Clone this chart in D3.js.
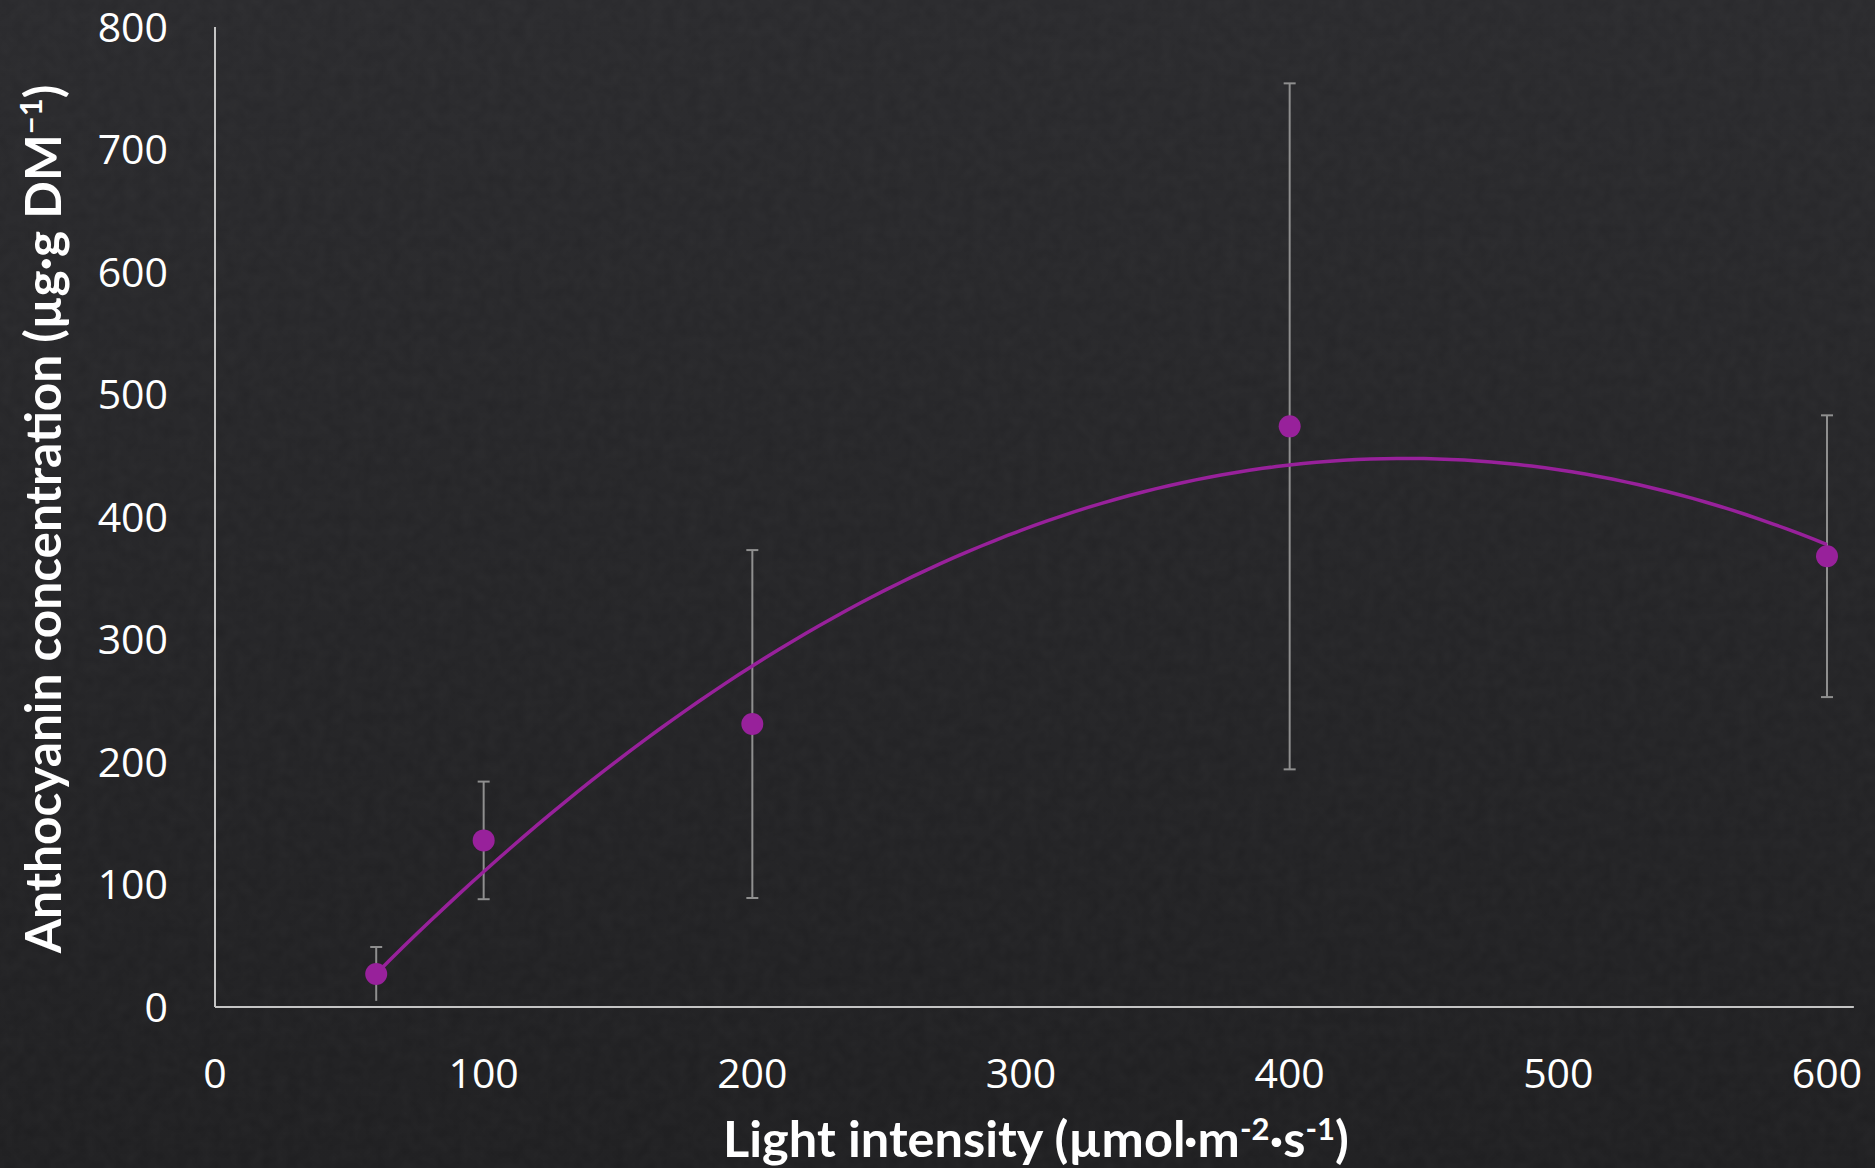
<!DOCTYPE html>
<html>
<head>
<meta charset="utf-8">
<script src="https://cdn.jsdelivr.net/npm/d3@7"></script>
<style>
  html, body { margin: 0; padding: 0; background: #232326; }
  svg { display: block; }
</style>
</head>
<body>
<div id="chart"></div>
<script>
const lightLevels = [60, 100, 200, 400, 600]
const anthocyanin = [27, 136, 231, 474, 368]
const errors = [22, 48, 142, 280, 115]
const xTicks = [0, 100, 200, 300, 400, 500, 600]
const yTicks = [0, 100, 200, 300, 400, 500, 600, 700, 800]

const width = 1875
const height = 1168

const data = lightLevels.map((x, i) => ({ x: x, y: anthocyanin[i], e: errors[i] }))

const svg = d3.select("#chart")
  .append("svg")
  .attr("width", width)
  .attr("height", height)

// background: dark slate with a bit of grain
const defs = svg.append("defs")
const grad = defs.append("linearGradient")
  .attr("id", "bg")
  .attr("x1", 0).attr("y1", 0).attr("x2", 0).attr("y2", 1)
grad.append("stop").attr("offset", "0%").attr("stop-color", "#29292c")
grad.append("stop").attr("offset", "100%").attr("stop-color", "#1e1e20")

const grain = defs.append("filter").attr("id", "grain")
grain.append("feTurbulence")
  .attr("type", "fractalNoise")
  .attr("baseFrequency", 0.08)
  .attr("numOctaves", 2)
  .attr("seed", 4)
grain.append("feColorMatrix")
  .attr("type", "matrix")
  .attr("values", "0 0 0 0 0.5  0 0 0 0 0.5  0 0 0 0 0.5  0 0 0 0.05 0")

svg.append("rect").attr("width", width).attr("height", height).attr("fill", "url(#bg)")
svg.append("rect").attr("width", width).attr("height", height).attr("filter", "url(#grain)")

const x = d3.scaleLinear().domain([0, 600]).range([215, 1827])
const y = d3.scaleLinear().domain([0, 800]).range([1007, 27])

const axisColor = "#c4c4c4"
const errColor = "#8f8f8f"
const purple = "#98219b"

// axes lines
svg.append("line")
  .attr("x1", x(0)).attr("x2", x(0))
  .attr("y1", y(0)).attr("y2", y(800))
  .attr("stroke", axisColor).attr("stroke-width", 2)
svg.append("line")
  .attr("x1", x(0)).attr("x2", x(610))
  .attr("y1", y(0)).attr("y2", y(0))
  .attr("stroke", axisColor).attr("stroke-width", 2)

// tick labels
svg.append("g")
  .selectAll("text")
  .data(yTicks)
  .join("text")
  .attr("x", 168)
  .attr("y", (d) => y(d))
  .attr("dy", "0.36em")
  .attr("text-anchor", "end")
  .attr("font-family", "Open Sans")
  .attr("font-size", 41)
  .attr("fill", "#ffffff")
  .text((d) => d)

svg.append("g")
  .selectAll("text")
  .data(xTicks)
  .join("text")
  .attr("x", (d) => x(d))
  .attr("y", 1088)
  .attr("text-anchor", "middle")
  .attr("font-family", "Open Sans")
  .attr("font-size", 41)
  .attr("fill", "#ffffff")
  .text((d) => d)

// error bars
const bars = svg.append("g")
  .attr("stroke", errColor)
  .attr("stroke-width", 2)
bars.selectAll("line.stem")
  .data(data)
  .join("line")
  .attr("class", "stem")
  .attr("x1", (d) => x(d.x)).attr("x2", (d) => x(d.x))
  .attr("y1", (d) => y(Math.max(0, d.y - d.e)))
  .attr("y2", (d) => y(d.y + d.e))
bars.selectAll("line.capTop")
  .data(data)
  .join("line")
  .attr("class", "capTop")
  .attr("x1", (d) => x(d.x) - 6).attr("x2", (d) => x(d.x) + 6)
  .attr("y1", (d) => y(d.y + d.e)).attr("y2", (d) => y(d.y + d.e))
bars.selectAll("line.capBot")
  .data(data.filter((d) => d.y - d.e > 10))
  .join("line")
  .attr("class", "capBot")
  .attr("x1", (d) => x(d.x) - 6).attr("x2", (d) => x(d.x) + 6)
  .attr("y1", (d) => y(d.y - d.e)).attr("y2", (d) => y(d.y - d.e))

// second order polynomial trendline (least squares on the points)
function quadFit(xs, ys) {
  const s = [0, 0, 0, 0, 0]
  const t = [0, 0, 0]
  xs.forEach((xv, i) => {
    for (let k = 0; k < 5; k++) s[k] += Math.pow(xv, k)
    for (let k = 0; k < 3; k++) t[k] += ys[i] * Math.pow(xv, k)
  })
  const m = [
    [s[0], s[1], s[2], t[0]],
    [s[1], s[2], s[3], t[1]],
    [s[2], s[3], s[4], t[2]]
  ]
  for (let i = 0; i < 3; i++) {
    for (let j = i + 1; j < 3; j++) {
      const f = m[j][i] / m[i][i]
      for (let k = i; k < 4; k++) m[j][k] -= f * m[i][k]
    }
  }
  const c = [0, 0, 0]
  for (let i = 2; i >= 0; i--) {
    let v = m[i][3]
    for (let k = i + 1; k < 3; k++) v -= m[i][k] * c[k]
    c[i] = v / m[i][i]
  }
  return c
}
const coef = quadFit(lightLevels, anthocyanin)
const fitted = d3.range(60, 600.1, 5).map((v) => ({ x: v, y: coef[0] + coef[1] * v + coef[2] * v * v }))

svg.append("path")
  .datum(fitted)
  .attr("fill", "none")
  .attr("stroke", purple)
  .attr("stroke-width", 3.5)
  .attr("d", d3.line().x((d) => x(d.x)).y((d) => y(d.y)))

// points
svg.append("g")
  .selectAll("circle")
  .data(data)
  .join("circle")
  .attr("cx", (d) => x(d.x))
  .attr("cy", (d) => y(d.y))
  .attr("r", 11)
  .attr("fill", purple)

// axis titles
const xTitle = svg.append("text")
  .attr("x", 1036)
  .attr("y", 1157)
  .attr("text-anchor", "middle")
  .attr("font-family", "Lato")
  .attr("font-weight", "bold")
  .attr("font-size", 50.5)
  .attr("fill", "#ffffff")
xTitle.append("tspan").text("Light intensity (µmol·m")
xTitle.append("tspan").attr("font-size", 31).attr("baseline-shift", "55%").text("-2")
xTitle.append("tspan").text("·s")
xTitle.append("tspan").attr("font-size", 31).attr("baseline-shift", "55%").text("-1")
xTitle.append("tspan").text(")")

const yTitle = svg.append("text")
  .attr("transform", "translate(61,519) rotate(-90)")
  .attr("text-anchor", "middle")
  .attr("font-family", "Lato")
  .attr("font-weight", "bold")
  .attr("font-size", 49.5)
  .attr("fill", "#ffffff")
yTitle.append("tspan").text("Anthocyanin concentration (µg·g DM")
yTitle.append("tspan").attr("font-size", 31).attr("baseline-shift", "60%").text("−1")
yTitle.append("tspan").text(")")
</script>
</body>
</html>
